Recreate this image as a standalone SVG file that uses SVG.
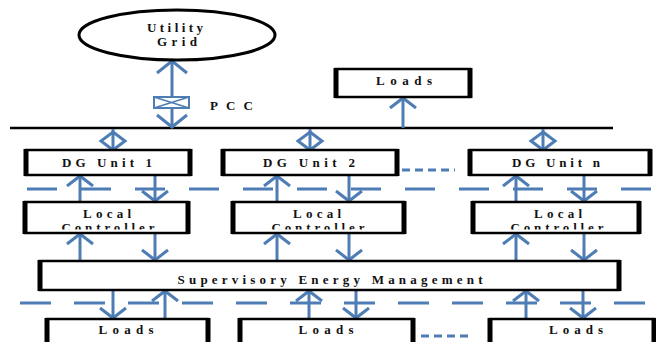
<svg xmlns="http://www.w3.org/2000/svg" width="656" height="342" viewBox="0 0 656 342">
<style>
.box{fill:#fff;stroke:#000;stroke-width:2.5}
.side{stroke:#000;stroke-width:5}
.lbl{font-family:"Liberation Serif","Times New Roman",serif;font-weight:bold;font-size:13px;fill:#111}
.wire{stroke:#4e7db5;stroke-width:3;fill:none}
.arr{stroke:#4e7db5;stroke-width:3;fill:none;marker-end:url(#ah)}
.dash{stroke:#4e7db5;stroke-width:3;fill:none}
.dot{stroke:#4e7db5;stroke-width:3;fill:none;stroke-dasharray:8 5}
.bus{stroke:#000;stroke-width:2.5}
</style>
<defs>
<marker id="ah" markerUnits="userSpaceOnUse" viewBox="-14 -16 18 32" markerWidth="18" markerHeight="32" refX="0" refY="0" orient="auto-start-reverse">
<path d="M-10,-13 L0,0 L-10,13" fill="none" stroke="#4e7db5" stroke-width="3"/>
</marker>
<marker id="ahb" markerUnits="userSpaceOnUse" viewBox="-16 -18 20 36" markerWidth="20" markerHeight="36" refX="0" refY="0" orient="auto-start-reverse">
<path d="M-12,-15 L0,0 L-12,15" fill="none" stroke="#4e7db5" stroke-width="3"/>
</marker>
<g id="dia">
<line x1="0" y1="129" x2="0" y2="150" class="wire"/>
<polygon points="0,132 12,141 0,150 -12,141" class="wire" stroke-width="2.5"/>
</g>
<clipPath id="lcclip"><rect x="0" y="200" width="656" height="29.5"/></clipPath>
</defs>
<rect width="656" height="342" fill="#fff"/>

<g id="connectors">
<line class="bus" x1="10" y1="128" x2="613" y2="128"/>
<line class="wire" x1="172" y1="61" x2="172" y2="127" marker-start="url(#ahb)" marker-end="url(#ahb)"/>
<line class="arr" x1="403" y1="128" x2="403" y2="98"/>
<use href="#dia" x="113"/>
<use href="#dia" x="310"/>
<use href="#dia" x="543"/>
<line class="dash" x1="27" y1="189" x2="651" y2="189" stroke-dasharray="30 24"/>
<line class="dash" x1="20" y1="303" x2="646" y2="303" stroke-dasharray="31 23"/>
<line class="dot" x1="402" y1="170" x2="455" y2="170"/>
<line class="dot" x1="421" y1="336" x2="473" y2="336"/>
<line class="arr" x1="80" y1="202" x2="80" y2="176"/>
<line class="arr" x1="155" y1="175" x2="155" y2="201"/>
<line class="arr" x1="277" y1="202" x2="277" y2="176"/>
<line class="arr" x1="349" y1="175" x2="349" y2="201"/>
<line class="arr" x1="516" y1="202" x2="516" y2="176"/>
<line class="arr" x1="584" y1="175" x2="584" y2="201"/>
<line class="arr" x1="80" y1="261" x2="80" y2="234"/>
<line class="arr" x1="155" y1="233" x2="155" y2="260"/>
<line class="arr" x1="277" y1="261" x2="277" y2="234"/>
<line class="arr" x1="349" y1="233" x2="349" y2="260"/>
<line class="arr" x1="516" y1="261" x2="516" y2="234"/>
<line class="arr" x1="584" y1="233" x2="584" y2="260"/>
<line class="arr" x1="113" y1="290" x2="113" y2="318"/>
<line class="arr" x1="165" y1="319" x2="165" y2="291"/>
<line class="arr" x1="309" y1="319" x2="309" y2="291"/>
<line class="arr" x1="356" y1="290" x2="356" y2="318"/>
<line class="arr" x1="526" y1="319" x2="526" y2="291"/>
<line class="arr" x1="583" y1="290" x2="583" y2="318"/>
</g>

<g id="grid">
<ellipse cx="177" cy="35" rx="98" ry="25" fill="#fff" stroke="#000" stroke-width="3"/>
<text class="lbl" x="175" y="32" text-anchor="middle" textLength="56" lengthAdjust="spacing">Utility</text>
<text class="lbl" x="177" y="46" text-anchor="middle" textLength="40" lengthAdjust="spacing">Grid</text>
</g>

<g id="pcc">
<rect x="154" y="97" width="35" height="11" fill="#fff" stroke="#4e7db5" stroke-width="2"/>
<path d="M154,97 L189,108 M189,97 L154,108" stroke="#4e7db5" stroke-width="1.5"/>
<text class="lbl" x="210" y="110" textLength="43" lengthAdjust="spacing">PCC</text>
</g>

<g id="loads-top">
<rect class="box" x="336" y="69" width="134" height="28"/>
<line class="side" x1="336" y1="68" x2="336" y2="98"/><line class="side" x1="470" y1="68" x2="470" y2="98"/>
<text class="lbl" x="404" y="85" text-anchor="middle" textLength="56" lengthAdjust="spacing">Loads</text>
</g>

<g id="dg1">
<rect class="box" x="26" y="150" width="164" height="25"/>
<line class="side" x1="26" y1="149" x2="26" y2="176"/><line class="side" x1="190" y1="149" x2="190" y2="176"/>
<text class="lbl" x="107" y="167" text-anchor="middle" textLength="90" lengthAdjust="spacing">DG Unit 1</text>
</g>
<g id="dg2">
<rect class="box" x="223" y="150" width="174" height="25"/>
<line class="side" x1="223" y1="149" x2="223" y2="176"/><line class="side" x1="397" y1="149" x2="397" y2="176"/>
<text class="lbl" x="309" y="167" text-anchor="middle" textLength="92" lengthAdjust="spacing">DG Unit 2</text>
</g>
<g id="dgn">
<rect class="box" x="470" y="150" width="180" height="25"/>
<line class="side" x1="470" y1="149" x2="470" y2="176"/><line class="side" x1="650" y1="149" x2="650" y2="176"/>
<text class="lbl" x="556" y="167" text-anchor="middle" textLength="88" lengthAdjust="spacing">DG Unit n</text>
</g>

<g id="lc1">
<rect class="box" x="25" y="202" width="163" height="31"/>
<line class="side" x1="25" y1="201" x2="25" y2="234"/><line class="side" x1="188" y1="201" x2="188" y2="234"/>
<text class="lbl" x="107" y="218" text-anchor="middle" textLength="48" lengthAdjust="spacing">Local</text>
<text class="lbl" x="108" y="231.5" text-anchor="middle" textLength="93" lengthAdjust="spacing" clip-path="url(#lcclip)">Controller</text>
</g>
<g id="lc2">
<rect class="box" x="233" y="202" width="171" height="31"/>
<line class="side" x1="233" y1="201" x2="233" y2="234"/><line class="side" x1="404" y1="201" x2="404" y2="234"/>
<text class="lbl" x="317" y="218" text-anchor="middle" textLength="48" lengthAdjust="spacing">Local</text>
<text class="lbl" x="318" y="231.5" text-anchor="middle" textLength="93" lengthAdjust="spacing" clip-path="url(#lcclip)">Controller</text>
</g>
<g id="lcn">
<rect class="box" x="473" y="202" width="166" height="31"/>
<line class="side" x1="473" y1="201" x2="473" y2="234"/><line class="side" x1="639" y1="201" x2="639" y2="234"/>
<text class="lbl" x="558" y="218" text-anchor="middle" textLength="48" lengthAdjust="spacing">Local</text>
<text class="lbl" x="557" y="231.5" text-anchor="middle" textLength="93" lengthAdjust="spacing" clip-path="url(#lcclip)">Controller</text>
</g>

<g id="sem">
<rect class="box" x="40" y="261" width="579" height="29"/>
<line class="side" x1="40" y1="260" x2="40" y2="291"/><line class="side" x1="619" y1="260" x2="619" y2="291"/>
<text class="lbl" x="330" y="284" text-anchor="middle" textLength="305" lengthAdjust="spacing">Supervisory Energy Management</text>
</g>

<g id="loads1">
<rect class="box" x="47" y="319" width="161" height="40"/>
<line class="side" x1="47" y1="318" x2="47" y2="345"/><line class="side" x1="208" y1="318" x2="208" y2="345"/>
<text class="lbl" x="126" y="334" text-anchor="middle" textLength="55" lengthAdjust="spacing">Loads</text>
</g>
<g id="loads2">
<rect class="box" x="240" y="319" width="173" height="40"/>
<line class="side" x1="240" y1="318" x2="240" y2="345"/><line class="side" x1="413" y1="318" x2="413" y2="345"/>
<text class="lbl" x="326" y="334" text-anchor="middle" textLength="55" lengthAdjust="spacing">Loads</text>
</g>
<g id="loads3">
<rect class="box" x="490" y="319" width="164" height="40"/>
<line class="side" x1="490" y1="318" x2="490" y2="345"/><line class="side" x1="654" y1="318" x2="654" y2="345"/>
<text class="lbl" x="576" y="334" text-anchor="middle" textLength="54" lengthAdjust="spacing">Loads</text>
</g>
</svg>
